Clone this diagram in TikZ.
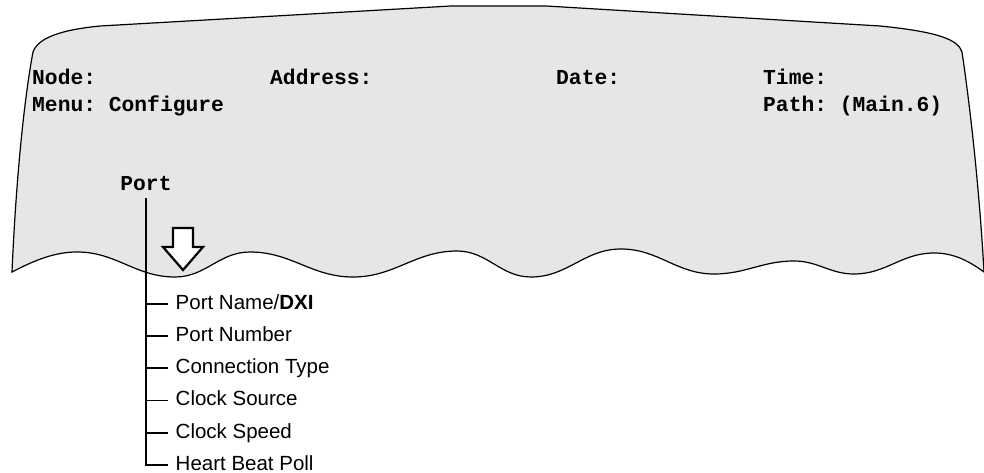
\documentclass[tikz,border=0pt]{standalone}
\usepackage{fontspec}
\setsansfont{Liberation Sans}
\setmonofont{Liberation Mono}
\usetikzlibrary{positioning}

\definecolor{panelgray}{HTML}{E6E6E6}

\begin{document}
\begin{tikzpicture}[
  x=1pt, y=-1pt,
  screen/.style={fill=panelgray, draw=black, line width=1.2pt},
  field/.style={anchor=base west, inner sep=0pt, font=\fontsize{21.3}{27}\selectfont\ttfamily\bfseries},
  item/.style={inner sep=0pt, text height=15pt, text depth=4pt, font=\fontsize{20.5}{24}\selectfont\sffamily},
  branch/.style={line width=1.8pt},
  hollow/.style={fill=white, draw=black, line width=2.2pt, line join=miter},
  node distance=12.8pt
]
\useasboundingbox (0,0) rectangle (984,473);

% screen panel with torn bottom edge
\path[screen] (12,272) .. controls (35,260) and (55,252) .. (77,252)
  to[out=0,in=180] (175,277) to[out=0,in=180] (250,252)
  to[out=0,in=180] (353,277) to[out=0,in=180] (457,251)
  to[out=0,in=180] (531,277) to[out=0,in=180] (621,249)
  to[out=0,in=180] (714,274) to[out=0,in=180] (794,261)
  to[out=0,in=180] (854,274) to[out=0,in=180] (934,253)
  .. controls (955,253) and (970,262) .. (984,272)
  .. controls (980,200) and (972,120) .. (962,52)
  .. controls (958,40) and (940,32) .. (880,26)
  -- (546,6) -- (451,6) -- (100,26)
  .. controls (60,30) and (38,38) .. (33,52)
  .. controls (24,100) and (16,180) .. cycle;

% header fields
\node[field] (node) at (32,85) {Node:};
\node[field] (address) at (270,85) {Address:};
\node[field] (date) at (556,85) {Date:};
\node[field] (time) at (763,85) {Time:};
\node[field] (menu) at (32,112) {Menu: Configure};
\node[field] (path) at (763,112) {Path: (Main.6)};

% menu tree
\node[field, anchor=base, inner ysep=7pt] (port) at (146,190.7) {Port};

\node[item, anchor=base west] (pname) at (175.5,309.3) {Port Name/\textbf{DXI}};
\node[item, below right=12.8pt and 0pt of pname.south west] (pnum) {Port Number};
\node[item, below right=12.8pt and 0pt of pnum.south west] (ctype) {Connection Type};
\node[item, below right=12.8pt and 0pt of ctype.south west] (csource) {Clock Source};
\node[item, below right=12.8pt and 0pt of csource.south west] (cspeed) {Clock Speed};
\node[item, below right=12.8pt and 0pt of cspeed.south west] (hbpoll) {Heart Beat Poll};

\foreach \n in {pname,pnum,ctype,csource,cspeed,hbpoll}
  \draw[branch] (port.south) |- ([xshift=-7.5pt]\n.west);

% hollow down arrow
\draw[hollow] (173,228) -- (193,228) -- (193,247) -- (203,247) -- (183,270)
  -- (163,247) -- (173,247) -- cycle;
\end{tikzpicture}
\end{document}
